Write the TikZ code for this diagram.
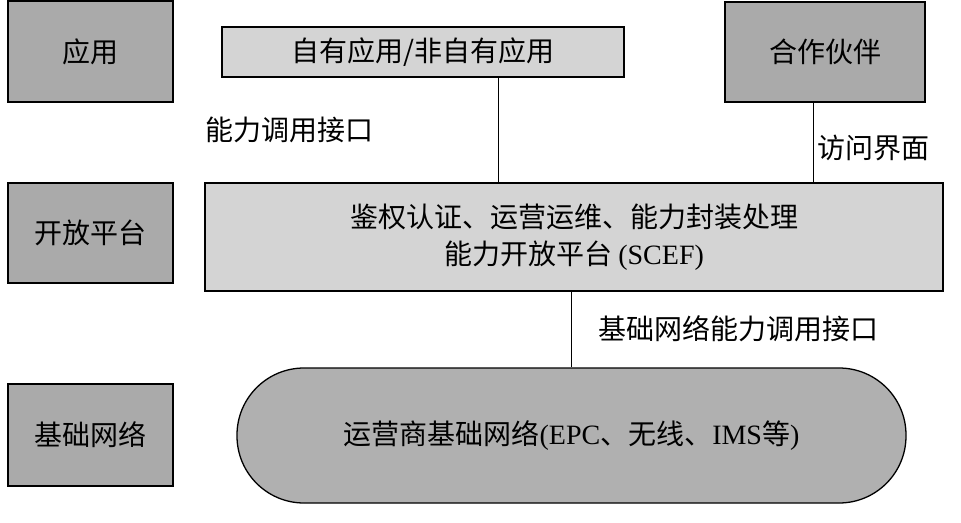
\documentclass[tikz,border=0pt]{standalone}
\usepackage{fontspec}
\setmainfont{Liberation Serif}
\newfontfamily\cjk{Noto Sans CJK SC}
\usetikzlibrary{calc}
\definecolor{darkbox}{RGB}{170,170,170}
\definecolor{lightbox}{RGB}{212,212,212}
\definecolor{netfill}{RGB}{176,176,176}
\tikzset{
  box/.style={draw=black, line width=1.5pt, rectangle, inner sep=0pt, align=center},
  dbox/.style={box, fill=darkbox},
  lbox/.style={box, fill=lightbox, line width=1.3pt},
  lbl/.style={inner sep=0pt},
  conn/.style={draw=black, line width=1pt},
  txt/.style={font=\fontsize{28}{37}\selectfont\cjk}
}
\begin{document}
\begin{tikzpicture}[x=1pt,y=-1pt]
\useasboundingbox (0,0) rectangle (961,522);
% left category boxes
\node[dbox, txt, minimum width=165pt, minimum height=101pt] (app) at (90.5,51.5) {应用};
\node[dbox, txt, minimum width=165pt, minimum height=100pt] (open) at (90.5,233) {开放平台};
\node[dbox, txt, minimum width=165pt, minimum height=102pt] (base) at (90.5,435) {基础网络};
% top row
\node[lbox, txt, minimum width=402pt, minimum height=50pt] (own) at (423,52) {自有应用/非自有应用};
\node[dbox, txt, minimum width=200pt, minimum height=100pt] (partner) at (825,52) {合作伙伴};
% platform
\node[lbox, txt, minimum width=738pt, minimum height=108pt] (scef) at (574,237)
  {鉴权认证、运营运维、能力封装处理\\能力开放平台 {\rmfamily(SCEF)}};
% network
\node[draw=black, line width=1.3pt, fill=netfill, rounded corners=67pt, inner sep=0pt,
      minimum width=669pt, minimum height=135pt, txt] (net) at (571.5,435.5)
  {运营商基础网络{\rmfamily(EPC}、无线、{\rmfamily IMS}等{\rmfamily)}};
% connectors
\coordinate (cx1) at (498,0);
\coordinate (cx2) at (813,0);
\draw[conn] (own.south -| cx1) -- (scef.north -| cx1);
\draw[conn] (partner.south -| cx2) -- (scef.north -| cx2);
\draw[conn] (scef.south -| net.north) -- (net.north);
% labels
\node[lbl, txt] (l1) at (289,130) {能力调用接口};
\node[lbl, txt] (l2) at (873,148) {访问界面};
\node[lbl, txt] (l3) at (738,329) {基础网络能力调用接口};
\end{tikzpicture}
\end{document}
